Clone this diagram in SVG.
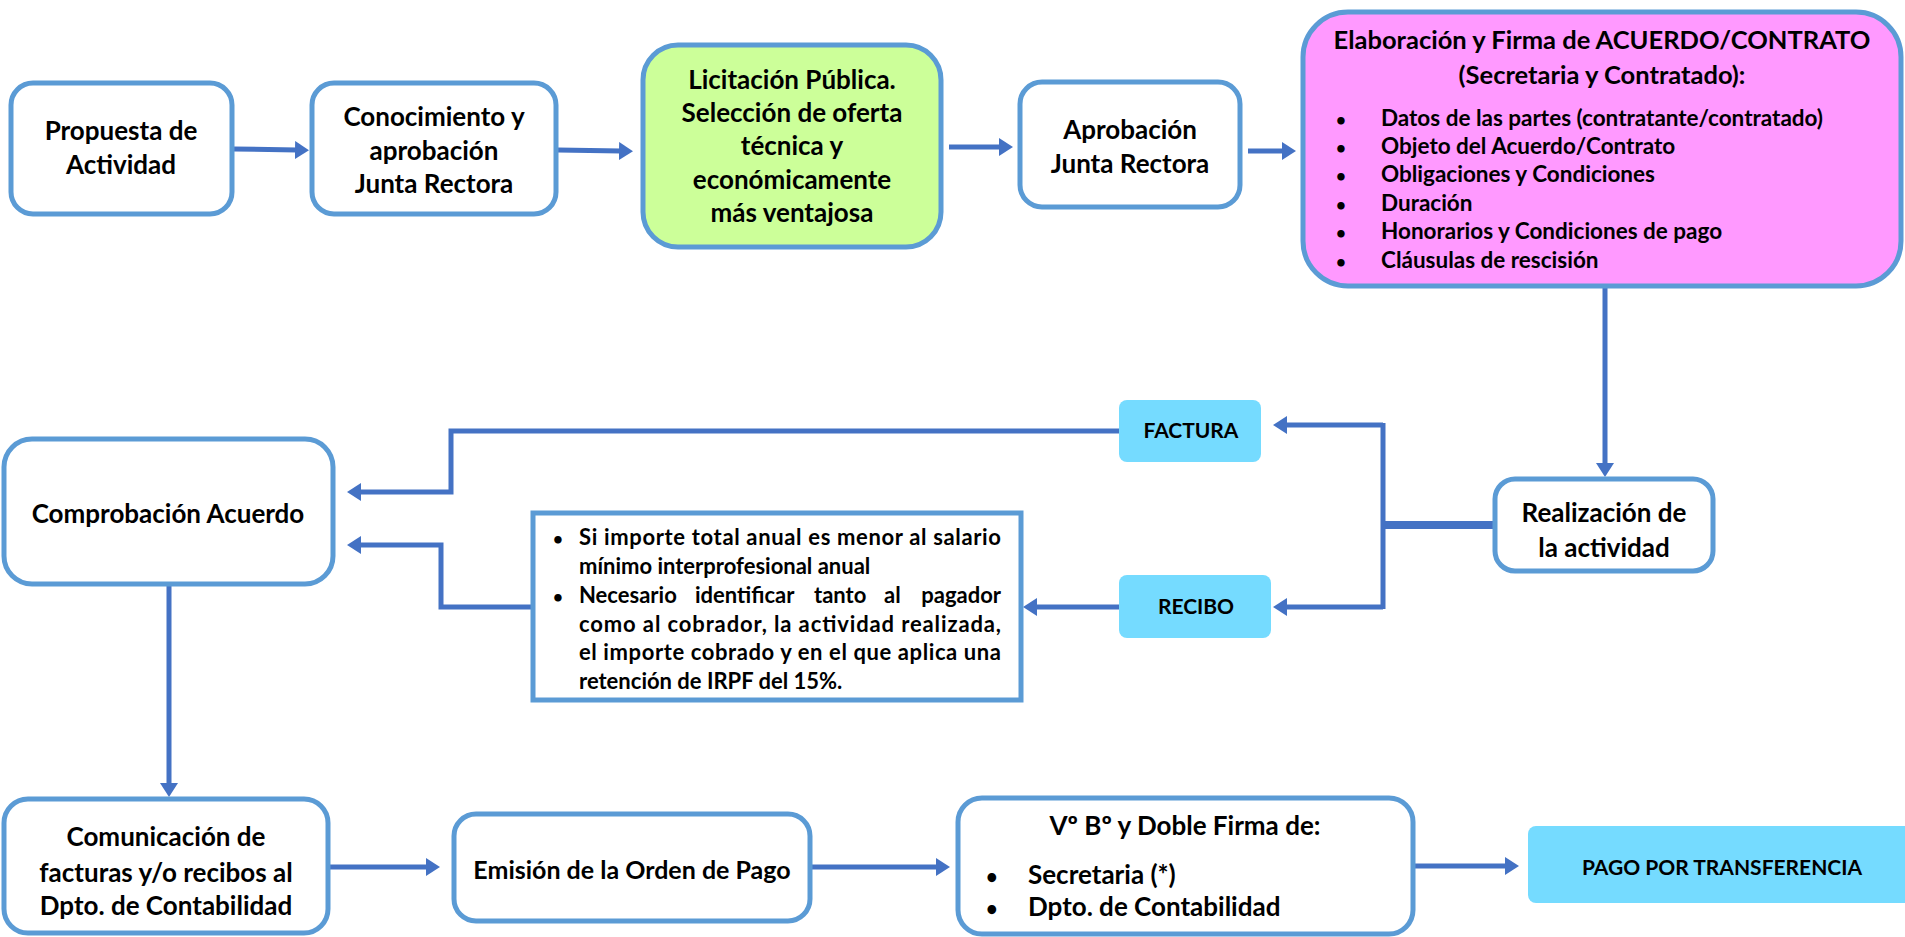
<svg xmlns="http://www.w3.org/2000/svg" width="1905" height="937" viewBox="0 0 1905 937">
<style>
.box{fill:#ffffff;stroke:#5B9BD5;stroke-width:5}
.tag{fill:#75DBFF;stroke:none}
.con{fill:none;stroke:#4472C4;stroke-width:5}
text{font-family:Lato,"Liberation Sans",sans-serif;font-weight:bold;fill:#000}
.t{font-size:26px;text-anchor:middle}
.s{font-size:21px;text-anchor:middle}
.b{font-size:22.5px}
.n{font-size:22px}
.v{font-size:26px}
.d{font-size:17px}
</style>
<defs>
<marker id="ah" markerUnits="userSpaceOnUse" markerWidth="14" markerHeight="18" refX="2" refY="9" orient="auto">
<path d="M0,0 L14,9 L0,18 z" fill="#4472C4"/>
</marker>
</defs>
<rect width="1905" height="937" fill="#ffffff"/>
<g id="connectors">
<line class="con" x1="234" y1="149" x2="297" y2="150" marker-end="url(#ah)"/>
<line class="con" x1="558" y1="150" x2="621" y2="151" marker-end="url(#ah)"/>
<line class="con" x1="949" y1="147" x2="1001" y2="147" marker-end="url(#ah)"/>
<line class="con" x1="1248" y1="151" x2="1284" y2="151" marker-end="url(#ah)"/>
<line class="con" x1="1605" y1="288" x2="1605" y2="465" marker-end="url(#ah)"/>
<line class="con" x1="1493" y1="525" x2="1381" y2="525" style="stroke-width:8"/>
<line class="con" x1="1383" y1="423" x2="1383" y2="609"/>
<line class="con" x1="1383" y1="425" x2="1285" y2="425" marker-end="url(#ah)"/>
<line class="con" x1="1383" y1="607" x2="1285" y2="607" marker-end="url(#ah)"/>
<polyline class="con" points="1119,431 451,431 451,492 359,492" marker-end="url(#ah)"/>
<line class="con" x1="1119" y1="607" x2="1035" y2="607" marker-end="url(#ah)"/>
<polyline class="con" points="531,607 441,607 441,545 359,545" marker-end="url(#ah)"/>
<line class="con" x1="169" y1="586" x2="169" y2="785" marker-end="url(#ah)"/>
<line class="con" x1="330" y1="867" x2="428" y2="867" marker-end="url(#ah)"/>
<line class="con" x1="812" y1="867" x2="938" y2="867" marker-end="url(#ah)"/>
<line class="con" x1="1415" y1="866" x2="1507" y2="866" marker-end="url(#ah)"/>
</g>
<g id="propuesta">
<rect class="box" x="11" y="83" width="221" height="131" rx="22"/>
<text class="t" x="121" y="140">Propuesta de</text>
<text class="t" x="121" y="174">Actividad</text>
</g>
<g id="conocimiento">
<rect class="box" x="312" y="83" width="244" height="131" rx="22"/>
<text class="t" x="434" y="126">Conocimiento y</text>
<text class="t" x="434" y="160">aprobación</text>
<text class="t" x="434" y="193">Junta Rectora</text>
</g>
<g id="licitacion">
<rect class="box" x="643" y="45" width="298" height="202" rx="35" style="fill:#CCFF99"/>
<text class="t" x="792" y="89">Licitación Pública.</text>
<text class="t" x="792" y="122">Selección de oferta</text>
<text class="t" x="792" y="155">técnica y</text>
<text class="t" x="792" y="189">económicamente</text>
<text class="t" x="792" y="222">más ventajosa</text>
</g>
<g id="aprobacion">
<rect class="box" x="1020" y="82" width="220" height="125" rx="22"/>
<text class="t" x="1130" y="139">Aprobación</text>
<text class="t" x="1130" y="173">Junta Rectora</text>
</g>
<g id="elaboracion">
<rect class="box" x="1303" y="12" width="598" height="274" rx="45" style="fill:#FF99FF"/>
<text class="t" x="1602" y="49" style="font-size:25.5px">Elaboración y Firma de ACUERDO/CONTRATO</text>
<text class="t" x="1602" y="84" style="font-size:25.5px">(Secretaria y Contratado):</text>
<g class="b">
<text class="d" x="1336" y="126">•</text><text x="1381" y="126">Datos de las partes (contratante/contratado)</text>
<text class="d" x="1336" y="154">•</text><text x="1381" y="154">Objeto del Acuerdo/Contrato</text>
<text class="d" x="1336" y="182">•</text><text x="1381" y="182">Obligaciones y Condiciones</text>
<text class="d" x="1336" y="211">•</text><text x="1381" y="211">Duración</text>
<text class="d" x="1336" y="239">•</text><text x="1381" y="239">Honorarios y Condiciones de pago</text>
<text class="d" x="1336" y="268">•</text><text x="1381" y="268">Cláusulas de rescisión</text>
</g>
</g>
<g id="realizacion">
<rect class="box" x="1495" y="479" width="218" height="92" rx="20"/>
<text class="t" x="1604" y="522">Realización de</text>
<text class="t" x="1604" y="557">la actividad</text>
</g>
<g id="factura">
<rect class="tag" x="1119" y="400" width="142" height="62" rx="8"/>
<text class="s" x="1191" y="438">FACTURA</text>
</g>
<g id="recibo">
<rect class="tag" x="1119" y="575" width="152" height="63" rx="8"/>
<text class="s" x="1196" y="614">RECIBO</text>
</g>
<g id="condiciones">
<rect class="box" x="533" y="513" width="488" height="187"/>
<g class="n">
<text class="d" x="553" y="545">•</text><text x="579" y="545" textLength="422" lengthAdjust="spacing">Si importe total anual es menor al salario</text>
<text x="579" y="574">mínimo interprofesional anual</text>
<text class="d" x="553" y="603">•</text>
<text x="579" y="603">Necesario</text>
<text x="695" y="603">identificar</text>
<text x="814" y="603">tanto</text>
<text x="884" y="603">al</text>
<text x="1001" y="603" text-anchor="end">pagador</text>
<text x="579" y="632" textLength="422" lengthAdjust="spacing">como al cobrador, la actividad realizada,</text>
<text x="579" y="660" textLength="422" lengthAdjust="spacing">el importe cobrado y en el que aplica una</text>
<text x="579" y="689">retención de IRPF del 15%.</text>
</g>
</g>
<g id="comprobacion">
<rect class="box" x="4" y="439" width="329" height="145" rx="28"/>
<text class="t" x="168" y="523">Comprobación Acuerdo</text>
</g>
<g id="comunicacion">
<rect class="box" x="4" y="799" width="324" height="134" rx="24"/>
<text class="t" x="166" y="846">Comunicación de</text>
<text class="t" x="166" y="882">facturas y/o recibos al</text>
<text class="t" x="166" y="915">Dpto. de Contabilidad</text>
</g>
<g id="emision">
<rect class="box" x="454" y="814" width="356" height="107" rx="22"/>
<text class="t" x="632" y="879" style="font-size:25px">Emisión de la Orden de Pago</text>
</g>
<g id="vobo">
<rect class="box" x="958" y="798" width="455" height="136" rx="24"/>
<text class="t" x="1185" y="835">Vº Bº y Doble Firma de:</text>
<text x="986" y="884" style="font-size:20px">•</text><text class="v" x="1028" y="884">Secretaria (*)</text>
<text x="986" y="916" style="font-size:20px">•</text><text class="v" x="1028" y="916">Dpto. de Contabilidad</text>
</g>
<g id="pago">
<rect class="tag" x="1528" y="826" width="390" height="77" rx="8"/>
<text class="s" x="1722" y="875">PAGO POR TRANSFERENCIA</text>
</g>
</svg>
